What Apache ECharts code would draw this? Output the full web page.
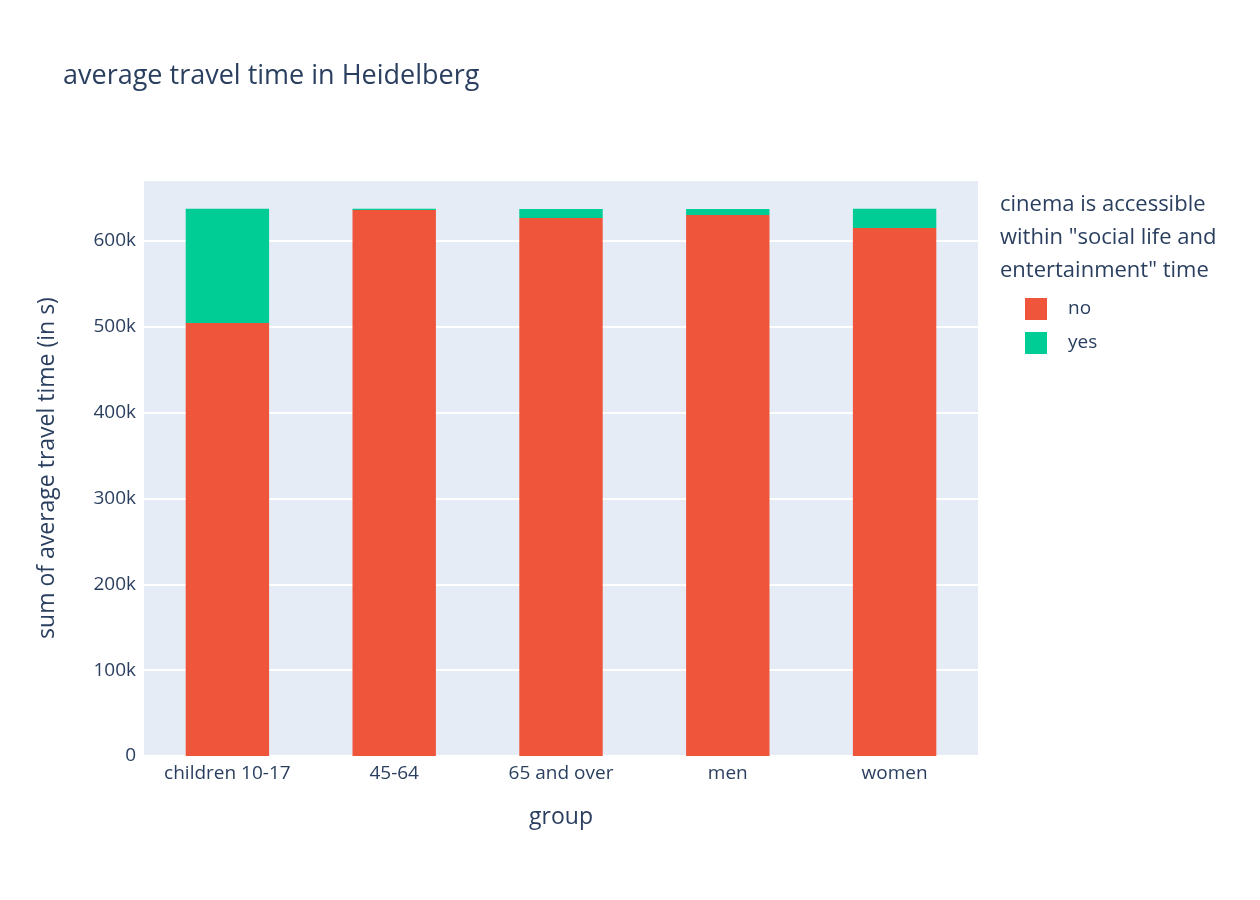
<!DOCTYPE html>
<html><head><meta charset="utf-8">
<script src="https://cdn.jsdelivr.net/npm/echarts@6/dist/echarts.min.js"></script>
<style>html,body{margin:0;padding:0;background:#fff}#c{width:1260px;height:900px}</style>
</head><body><div id="c"></div>
<script>
const categories = ["children 10-17","45-64","65 and over","men","women"];
const noValues = [504500, 636000, 626800, 630300, 615000];
const yesValues = [133000, 1500, 10500, 7000, 22500];
const fmt = v => v === 0 ? "0" : (v/1000) + "k";
const chart = echarts.init(document.getElementById('c'));
const font = "'Open Sans', 'Liberation Sans', Arial, sans-serif";
const col = '#2a3f5f';
chart.setOption({
  animation:false,
  textStyle:{fontFamily:font},
  title:{text:'average travel time in Heidelberg',left:58,top:58,textStyle:{fontFamily:font,fontSize:27,fontWeight:'normal',color:col}},
  grid:{left:144,top:180,width:834,height:576},
  graphic:[
    {type:'rect',z:-10,shape:{x:144,y:180,width:834,height:576},style:{fill:'#e5ecf6'},silent:true},
    {type:'text',left:1000,top:188,style:{text:'cinema is accessible\nwithin "social life and\nentertainment" time',fontSize:22,fontFamily:font,fill:col,lineHeight:33}}
  ],
  legend:{orient:'vertical',left:1020,top:293,itemWidth:22,itemHeight:22,itemGap:12,icon:'rect',textStyle:{fontSize:19,color:col,padding:[0,0,0,16],fontFamily:font},data:['no','yes']},
  xAxis:{type:'category',data:categories,name:'group',nameLocation:'middle',nameGap:50,nameTextStyle:{fontSize:23,color:col,fontFamily:font},
    axisLine:{show:false},axisTick:{show:false},axisLabel:{fontSize:19,color:col,margin:8,fontFamily:font}},
  yAxis:{type:'value',min:0,max:671000,interval:100000,name:'sum of average travel time (in s)',nameLocation:'middle',nameGap:85,
    nameTextStyle:{fontSize:23,color:col,fontFamily:font},axisLabel:{fontSize:19,color:col,formatter:fmt,showMaxLabel:false,fontFamily:font},
    splitLine:{lineStyle:{color:'#fff',width:2}}},
  series:[
    {name:'no',type:'bar',stack:'a',data:noValues,barWidth:'50%',itemStyle:{color:'#ef553b'}},
    {name:'yes',type:'bar',stack:'a',data:yesValues,itemStyle:{color:'#00cc96'}}
  ]
});
</script></body></html>
